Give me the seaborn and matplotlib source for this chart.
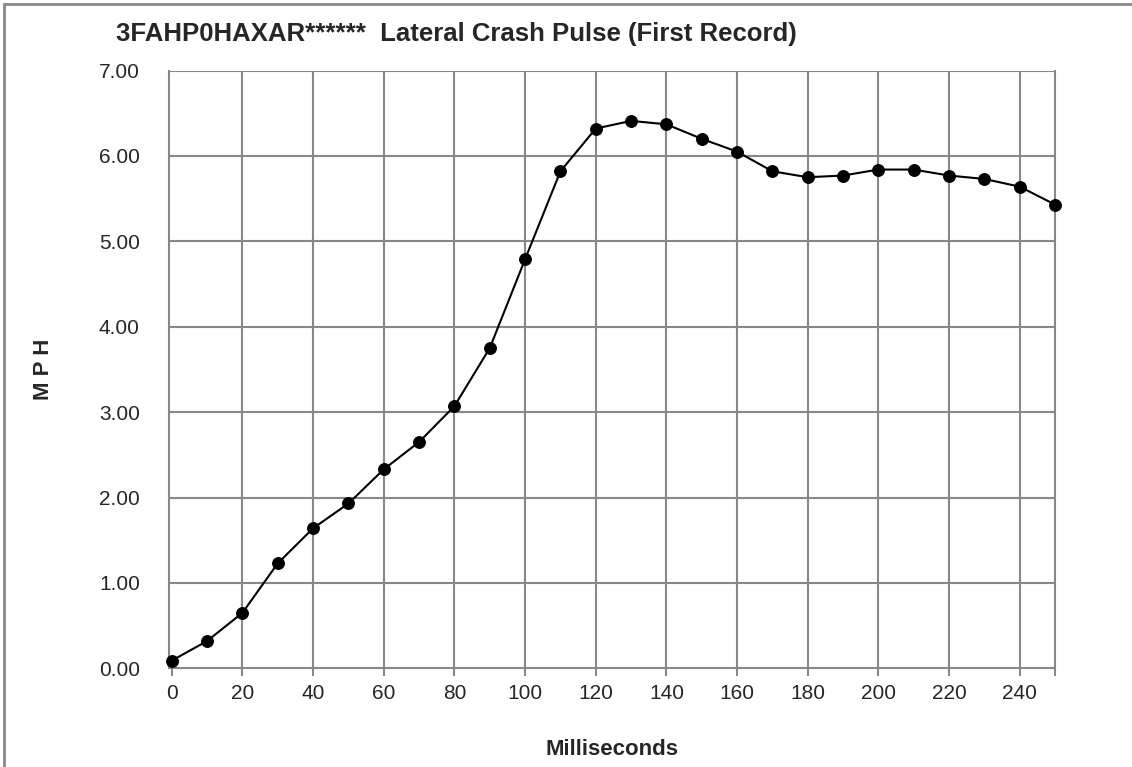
"""Lateral crash pulse chart."""

import matplotlib
matplotlib.use('Agg')
import matplotlib.pyplot as plt
import matplotlib.patches as mpatches
import pandas as pd
import seaborn as sns

# Data
milliseconds = [0, 10, 20, 30, 40, 50, 60, 70, 80, 90, 100, 110, 120,
                130, 140, 150, 160, 170, 180, 190, 200, 210, 220, 230, 240, 250]
mph = [0.09, 0.32, 0.65, 1.23, 1.64, 1.93, 2.33, 2.65, 3.07, 3.75, 4.79, 5.82, 6.32,
       6.41, 6.37, 6.20, 6.05, 5.82, 5.75, 5.77, 5.84, 5.84, 5.77, 5.73, 5.64, 5.43]
x_ticks = [0, 20, 40, 60, 80, 100, 120, 140, 160, 180, 200, 220, 240]
y_ticks = [0, 1, 2, 3, 4, 5, 6, 7]

title = '3FAHP0HAXAR******  Lateral Crash Pulse (First Record)'

sns.set_style('white')
plt.rcParams['font.family'] = ['Liberation Sans', 'DejaVu Sans']

df = pd.DataFrame({'Milliseconds': milliseconds, 'MPH': mph})

fig = plt.figure(figsize=(11.32, 7.67), dpi=100)
ax = fig.add_axes([169 / 1132, 1 - 668.3 / 767, (1055 - 169) / 1132, (668.3 - 70.5) / 767])

grid_color = '#888888'
for x in x_ticks[1:]:
    ax.axvline(x, color=grid_color, lw=1.5, zorder=1)
for y in y_ticks[1:]:
    ax.axhline(y, color=grid_color, lw=1.5, zorder=1)

sns.lineplot(data=df, x='Milliseconds', y='MPH', ax=ax, color='black', lw=1.5,
             marker='o', markersize=8.5, markeredgecolor='black', zorder=3, clip_on=False)

ax.set_xlim(-0.8, 250)
ax.set_ylim(0, 7)
ax.set_xticks(x_ticks + [250])
ax.set_xticklabels([str(t) for t in x_ticks] + [''])
ax.set_yticks(y_ticks)
ax.set_yticklabels([f'{t:.2f}' for t in y_ticks])

for side in ['left', 'right', 'bottom']:
    ax.spines[side].set_color(grid_color)
    ax.spines[side].set_linewidth(1.5)
ax.spines['top'].set_visible(False)

ax.tick_params(axis='x', length=6, width=1.5, color=grid_color, direction='out',
               labelsize=15, pad=5, bottom=True)
ax.tick_params(axis='y', length=0, labelsize=15, pad=21, left=False)

ax.set_xlabel('Milliseconds', fontsize=16, fontweight='bold', labelpad=26)
ax.set_ylabel('M P H', fontsize=16, fontweight='bold', labelpad=32)

fig.text(116 / 1132, 1 - 34 / 767, title, fontsize=18.5, fontweight='bold',
         ha='left', va='center')

# outer frame of the chart area
fig.patches.append(mpatches.Rectangle((4 / 1132, -0.1), 1.2, 1.1 - 4 / 767,
                                      transform=fig.transFigure, fill=False,
                                      edgecolor=grid_color, lw=2))

fig.savefig('out.png', dpi=100)
